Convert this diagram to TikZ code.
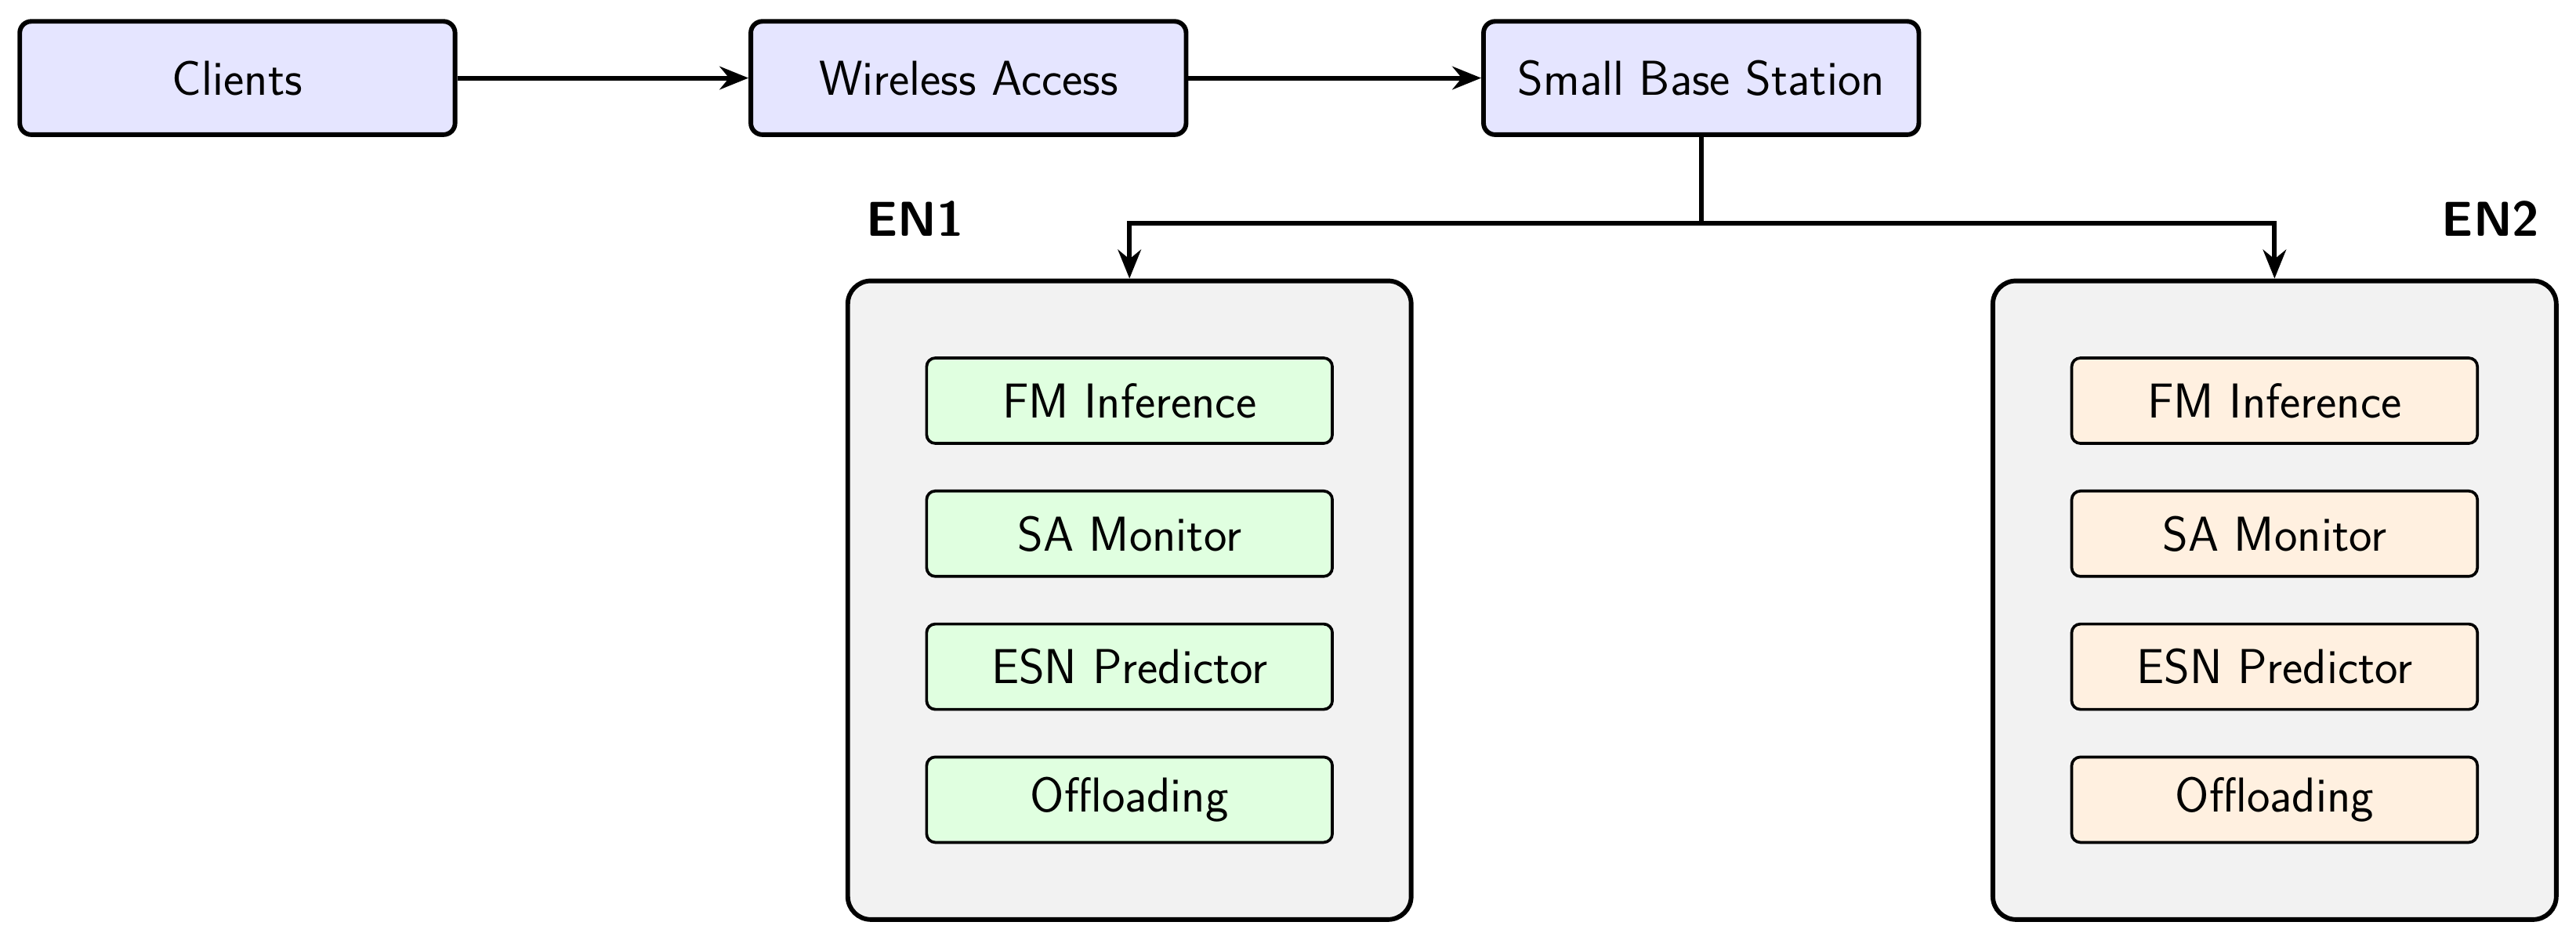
\documentclass[tikz,border=0pt]{standalone}
\usetikzlibrary{arrows.meta}
\begin{document}
\begin{tikzpicture}
	[
		x = 0.02cm, y = -0.02cm,
		font = \fontsize{17}{20}\selectfont\sffamily,
		box/.style = {shape=rectangle, draw, line width=1.6pt, rounded corners=4pt, anchor=center},
		flow/.style = {box, fill=blue!10, minimum width=5.3cm, minimum height=1.38cm},
		host/.style = {box, fill=black!5, minimum width=6.86cm, minimum height=7.78cm, rounded corners=8pt},
		part/.style = {shape=rectangle, draw, line width=1pt, rounded corners=3pt, minimum width=4.94cm, minimum height=1.04cm},
		link/.style = {line width=1.6pt, -{Stealth[length=10pt,width=8pt]}}
	]
	
	\useasboundingbox (0, 0) rectangle (1568, 572);
	
	\node [flow] (clients) at (144.5, 47.5) {Clients};
	\node [flow] (wireless) at (589.5, 47.5) {Wireless Access};
	\node [flow] (sbs) at (1035.5, 47.5) {Small Base Station};
	
	\node [host] (en1) at (687.5, 365.5) {};
	\node [host] (en2) at (1384.5, 365.5) {};
	\node [font=\fontsize{17}{20}\selectfont\sffamily\bfseries] (en1label) at (557, 133) {EN1};
	\node [font=\fontsize{17}{20}\selectfont\sffamily\bfseries] (en2label) at (1516, 133) {EN2};
	
	\foreach \n/\t [count=\i] in {fm/FM Inference, sa/SA Monitor, esn/ESN Predictor, off/Offloading} {
		\node [part, fill=green!12] (\n1) at (687.5, {163 + 81*\i}) {\t};
		\node [part, fill=orange!12] (\n2) at (1384.5, {163 + 81*\i}) {\t};
	}
	
	\coordinate (split) at (1035.5, 136);
	
	\draw [link] (clients) -- (wireless);
	\draw [link] (wireless) -- (sbs);
	\draw [link] (sbs.south) -- (split) -| (en1.north);
	\draw [link] (split) -| (en2.north);
\end{tikzpicture}
\end{document}
